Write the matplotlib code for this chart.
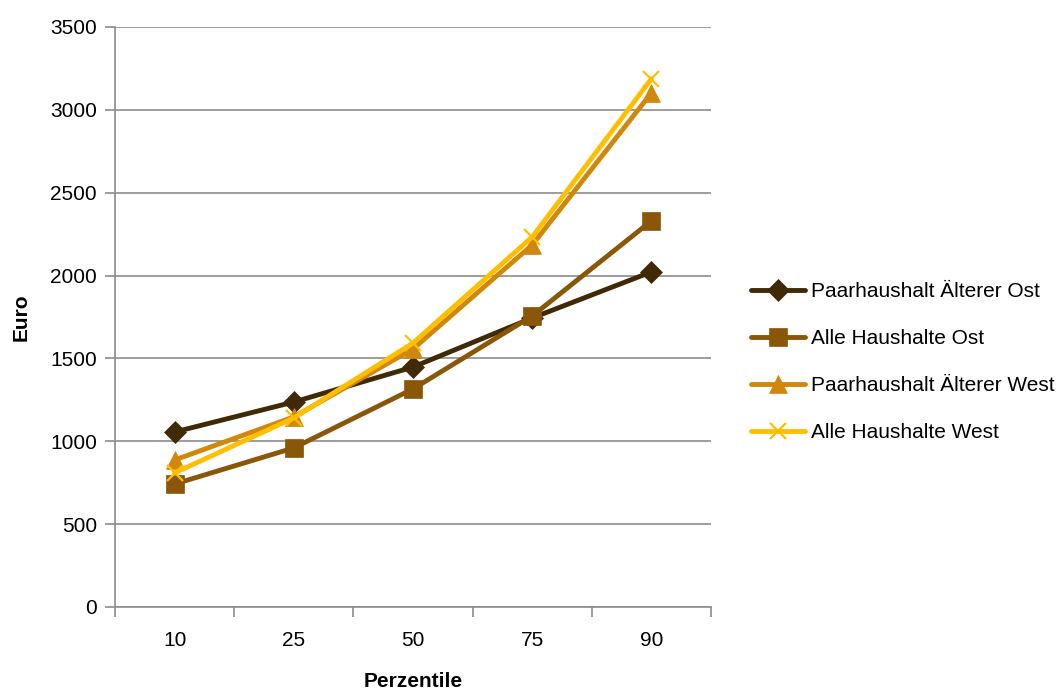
import matplotlib
matplotlib.use("Agg")
import matplotlib.pyplot as plt
import numpy as np

plt.rcParams['font.family'] = ['Liberation Sans', 'DejaVu Sans']

categories = ["10", "25", "50", "75", "90"]
paar_ost = [1056, 1237, 1448, 1744, 2022]
alle_ost = [742, 960, 1316, 1756, 2330]
paar_west = [887, 1147, 1557, 2185, 3102]
alle_west = [809, 1141, 1593, 2233, 3187]

series = [
    ("Paarhaushalt Älterer Ost", paar_ost, "#402905", "D", 11),
    ("Alle Haushalte Ost", alle_ost, "#8A5709", "s", 13),
    ("Paarhaushalt Älterer West", paar_west, "#D1870C", "^", 13),
    ("Alle Haushalte West", alle_west, "#FFBF00", "x", 12),
]

fig = plt.figure(figsize=(10.62, 6.9), dpi=100)
ax = fig.add_axes([0.1083, 0.1203, 0.5612, 0.8406])
x = np.arange(len(categories))
for label, vals, col, mk, ms in series:
    ax.plot(x, vals, color=col, lw=3.5, marker=mk, markersize=ms,
            markeredgewidth=1.6 if mk == "x" else 0.5, markeredgecolor=col,
            markerfacecolor=col, label=label, solid_capstyle='round')

ax.set_xlim(-0.5, 4.5)
ax.set_ylim(0, 3500)
ax.set_yticks(np.arange(0, 3501, 500))
ax.set_xticks(x)
ax.set_xticklabels(categories)
ax.set_xticks(np.arange(-0.5, 4.6, 1), minor=True)
ax.tick_params(axis='x', which='major', length=0, pad=17, labelsize=15)
ax.tick_params(axis='x', which='minor', length=7, color='#8C8C8C', width=1.2)
ax.tick_params(axis='y', length=7, color='#8C8C8C', width=1.2, labelsize=15, pad=6)
ax.grid(axis='y', color='#8C8C8C', lw=1.2)
ax.set_axisbelow(True)
for s in ['top', 'right']:
    ax.spines[s].set_visible(False)
for s in ['left', 'bottom']:
    ax.spines[s].set_color('#8C8C8C')
    ax.spines[s].set_linewidth(1.2)

ax.set_xlabel("Perzentile", fontsize=15, fontweight='bold', labelpad=16)
ax.set_ylabel("Euro", fontsize=15, fontweight='bold', labelpad=14)

ax.legend(loc='center left', bbox_to_anchor=(1.035, 0.422), frameon=False,
          fontsize=15, handlelength=2.6, handletextpad=0.3, labelspacing=1.35)

fig.savefig("out.png", dpi=100)
